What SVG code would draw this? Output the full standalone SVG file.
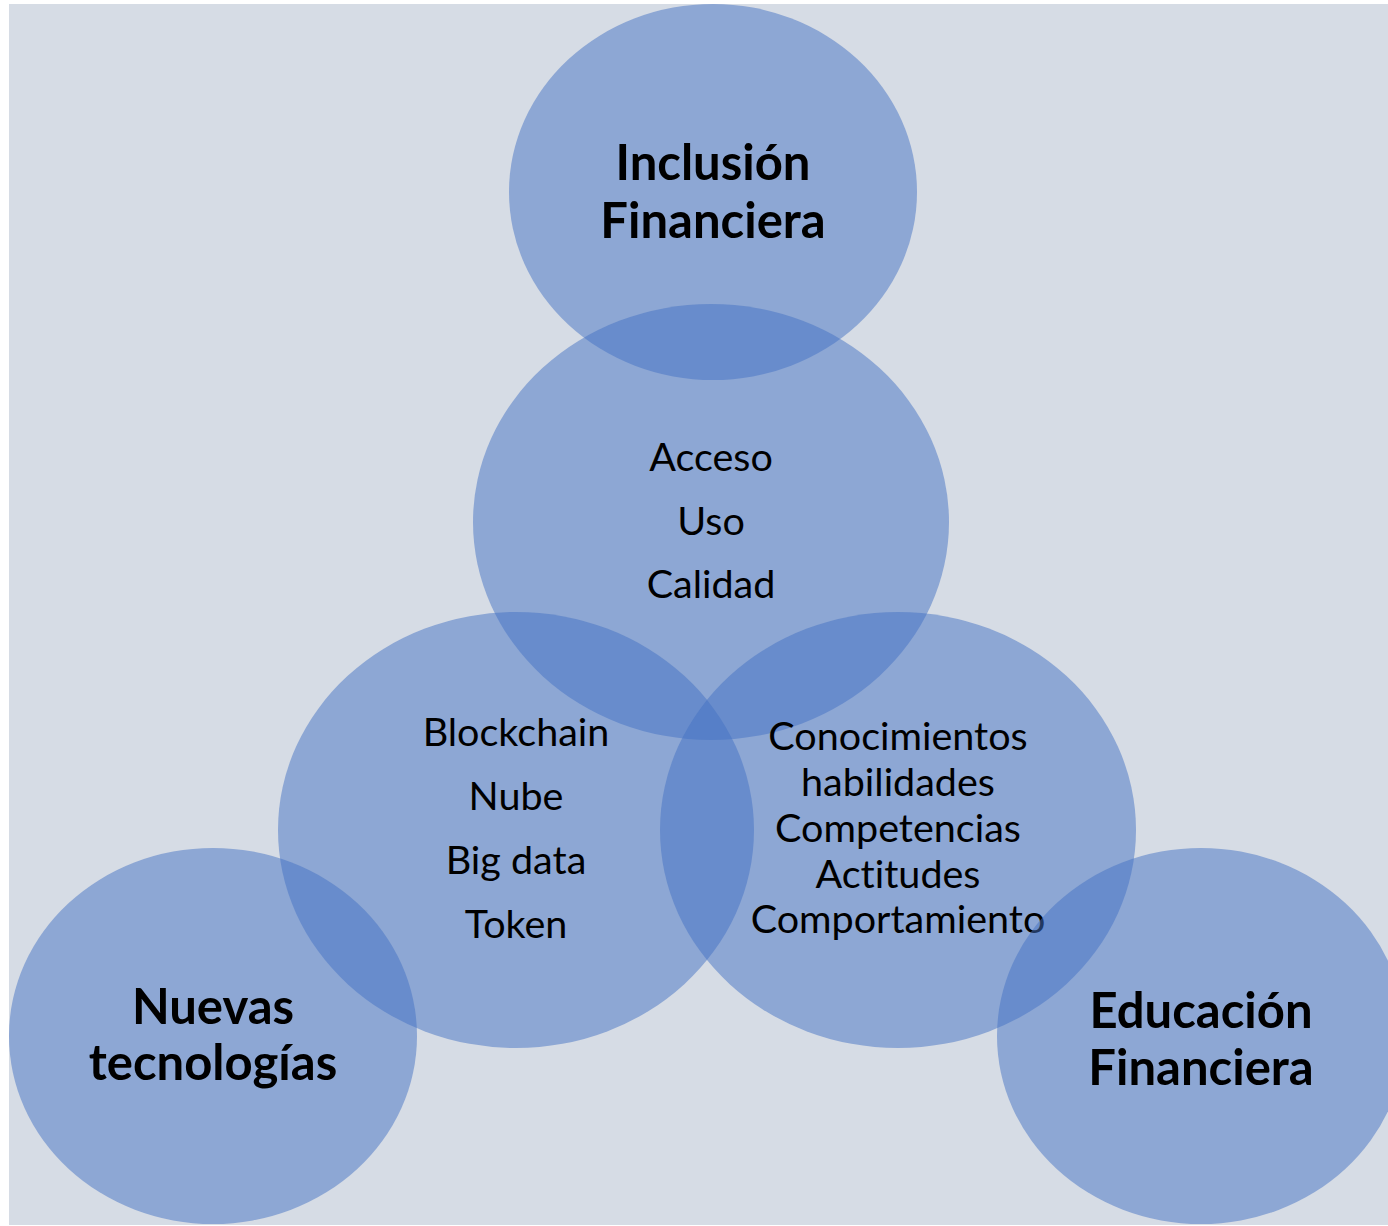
<svg xmlns="http://www.w3.org/2000/svg" width="1388" height="1226" viewBox="0 0 1388 1226">
<style>
.c{fill:#4472C4;fill-opacity:0.5}
.t{font-family:Lato,"Open Sans","Liberation Sans",sans-serif;fill:#000;text-anchor:middle;font-variant-ligatures:none}
.b{font-size:49px;font-weight:bold}
.n{font-size:39.5px}
</style>
<rect x="0" y="0" width="1388" height="1226" fill="#ffffff"/>
<rect x="9" y="4" width="1379" height="1221" fill="#D6DCE5"/>
<g id="inclusion">
<ellipse class="c" cx="713" cy="192" rx="204" ry="188"/>
<text class="t b" x="713" y="180">Inclusión</text>
<text class="t b" x="713" y="238">Financiera</text>
</g>
<g id="acceso">
<ellipse class="c" cx="711" cy="522" rx="238" ry="218"/>
<text class="t n" x="711" y="471">Acceso</text>
<text class="t n" x="711" y="535">Uso</text>
<text class="t n" x="711" y="598">Calidad</text>
</g>
<g id="tecno">
<ellipse class="c" cx="516" cy="830" rx="238" ry="218"/>
<text class="t n" x="516" y="746">Blockchain</text>
<text class="t n" x="516" y="810">Nube</text>
<text class="t n" x="516" y="874">Big data</text>
<text class="t n" x="516" y="938">Token</text>
</g>
<g id="conoc">
<ellipse class="c" cx="898" cy="830" rx="238" ry="218"/>
<text class="t n" x="898" y="750">Conocimientos</text>
<text class="t n" x="898" y="796">habilidades</text>
<text class="t n" x="898" y="842">Competencias</text>
<text class="t n" x="898" y="888">Actitudes</text>
<text class="t n" x="898" y="933">Comportamiento</text>
</g>
<g id="nuevas">
<ellipse class="c" cx="213" cy="1036" rx="204" ry="188"/>
<text class="t b" x="213" y="1024">Nuevas</text>
<text class="t b" x="213" y="1080">tecnologías</text>
</g>
<g id="educacion">
<ellipse class="c" cx="1201" cy="1036" rx="204" ry="188"/>
<text class="t b" x="1201" y="1028">Educación</text>
<text class="t b" x="1201" y="1085">Financiera</text>
</g>
<g id="connectors"></g>
</svg>
